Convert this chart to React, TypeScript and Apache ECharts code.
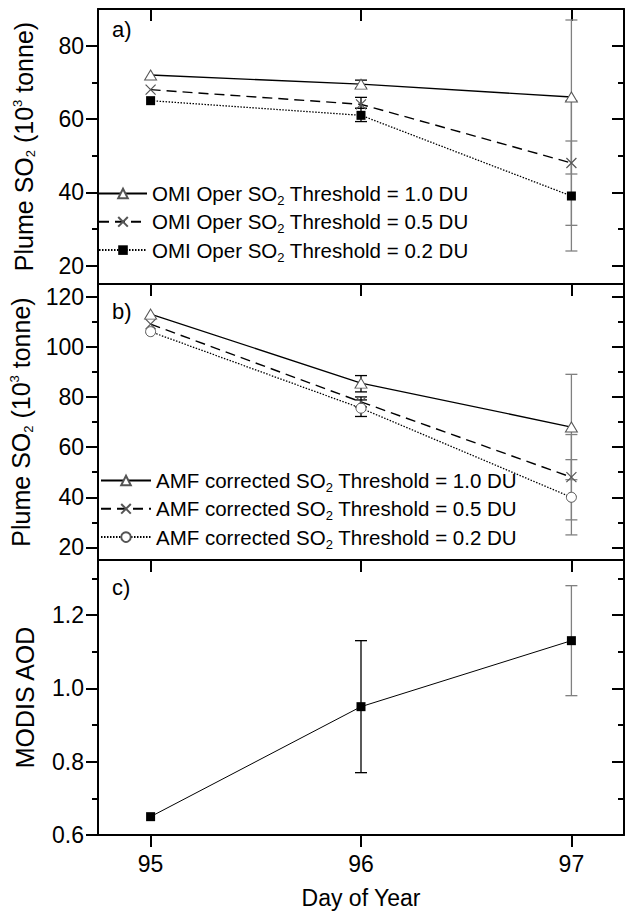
import React, { useEffect, useRef } from 'react';
import * as echarts from 'echarts';

const FONT = '"Liberation Sans", Arial, sans-serif';

// ---- data ----
const days = [95, 96, 97];
const xTicks = [95, 96, 97];
const xRange = [94.75, 97.25];

const omiNames = [
  'OMI Oper SO2 Threshold = 1.0 DU',
  'OMI Oper SO2 Threshold = 0.5 DU',
  'OMI Oper SO2 Threshold = 0.2 DU',
];
const omi10 = [72, 69.5, 66];
const omi05 = [68, 64, 48];
const omi02 = [65, 61, 39];
const omi10Err = [[96, 68.4, 70.6], [97, 45, 87]];
const omi05Err = [[96, 62.9, 65.9], [97, 31, 65]];
const omi02Err = [[96, 59.3, 62.9], [97, 24, 54]];

const amfNames = [
  'AMF corrected SO2 Threshold = 1.0 DU',
  'AMF corrected SO2 Threshold = 0.5 DU',
  'AMF corrected SO2 Threshold = 0.2 DU',
];
const amf10 = [113, 85.5, 68];
const amf05 = [109, 78, 48];
const amf02 = [106, 75.5, 40];
const amf10Err = [[96, 82, 88.5], [97, 47, 89]];
const amf05Err = [[96, 76, 80], [97, 31, 65]];
const amf02Err = [[96, 72.2, 78.8], [97, 25, 55]];

const aodName = 'MODIS AOD';
const aod = [0.65, 0.95, 1.13];
const aodErr = [[96, 0.77, 1.13], [97, 0.98, 1.28]];

const yRangeA = [15, 90];
const yTicksA = [20, 40, 60, 80];
const yMinorA = [30, 50, 70];
const yRangeB = [15, 125];
const yTicksB = [20, 40, 60, 80, 100, 120];
const yMinorB = [30, 50, 70, 90, 110];
const yRangeC = [0.6, 1.35];
const yTicksC = [0.6, 0.8, 1.0, 1.2];
const yMinorC = [0.7, 0.9, 1.1, 1.3];

const so2Title = 'Plume SO{sub|2} (10{sup|3} tonne)';
const panelLabels = ['a)', 'b)', 'c)'];

// ---- styling helpers ----
const richText = {
  sub: { fontSize: 13, fontFamily: FONT, color: '#000', padding: [14, 0, 0, 0] },
  sup: { fontSize: 13, fontFamily: FONT, color: '#000', padding: [0, 0, 13, 0] },
};
const axisLine = { show: true, onZero: false, lineStyle: { color: '#000', width: 2 } };
const tickStyle = { color: '#000', width: 2 };

function xAxesFor(g: number) {
  const last = g === 2;
  return [
    {
      type: 'value', gridIndex: g, position: 'bottom', min: xRange[0], max: xRange[1],
      axisLine,
      axisTick: last
        ? { show: true, inside: false, length: 12, customValues: xTicks, lineStyle: tickStyle }
        : { show: false },
      axisLabel: last
        ? { show: true, customValues: xTicks, margin: 17, fontSize: 23, fontFamily: FONT, color: '#000' }
        : { show: false },
      splitLine: { show: false },
      name: last ? 'Day of Year' : '',
      nameLocation: 'middle', nameGap: 51,
      nameTextStyle: { fontSize: 23, fontFamily: FONT, color: '#000' },
    },
    {
      type: 'value', gridIndex: g, position: 'top', min: xRange[0], max: xRange[1],
      axisLine,
      axisTick: { show: true, inside: true, length: 12, customValues: xTicks, lineStyle: tickStyle },
      axisLabel: { show: false },
      splitLine: { show: false },
    },
  ];
}

function yAxesFor(g: number, range: number[], ticks: number[], minors: number[], name: string, fmt: (v: number) => string) {
  const base = { type: 'value', gridIndex: g, min: range[0], max: range[1], splitLine: { show: false } };
  return [
    {
      ...base, position: 'left', axisLine,
      axisTick: { show: true, inside: false, length: 12, customValues: ticks, lineStyle: tickStyle },
      axisLabel: { show: true, customValues: ticks, margin: 14, fontSize: 23, fontFamily: FONT, color: '#000', formatter: fmt },
      name, nameLocation: 'middle', nameGap: 61, nameRotate: 90,
      nameTextStyle: { fontSize: 25, fontFamily: FONT, color: '#000', rich: richText },
    },
    {
      ...base, position: 'left', axisLine: { show: false },
      axisTick: { show: true, inside: false, length: 6, customValues: minors, lineStyle: tickStyle },
      axisLabel: { show: false },
    },
    {
      ...base, position: 'right', axisLine,
      axisTick: { show: true, inside: true, length: 12, customValues: ticks, lineStyle: tickStyle },
      axisLabel: { show: false },
    },
    {
      ...base, position: 'right', axisLine: { show: false },
      axisTick: { show: true, inside: true, length: 6, customValues: minors, lineStyle: tickStyle },
      axisLabel: { show: false },
    },
  ];
}

function errorSeries(g: number, data: number[][]) {
  return {
    type: 'custom', xAxisIndex: 2 * g, yAxisIndex: 4 * g, z: 2, silent: true,
    encode: { x: 0, y: [1, 2] },
    data,
    renderItem: (_params: any, api: any) => {
      const x = api.value(0);
      const top = api.coord([x, api.value(2)]);
      const bot = api.coord([x, api.value(1)]);
      const hw = 6;
      const style = { stroke: x >= 97 ? '#808080' : '#000', lineWidth: 1.3 };
      return {
        type: 'group',
        children: [
          { type: 'line', shape: { x1: top[0], y1: top[1], x2: bot[0], y2: bot[1] }, style },
          { type: 'line', shape: { x1: top[0] - hw, y1: top[1], x2: top[0] + hw, y2: top[1] }, style },
          { type: 'line', shape: { x1: bot[0] - hw, y1: bot[1], x2: bot[0] + hw, y2: bot[1] }, style },
        ],
      };
    },
  };
}

const X_SYMBOL = 'path://M0,0L10,10M10,0L0,10';

const markerStyles: Record<string, any> = {
  triangle: { symbol: 'triangle', symbolSize: [12, 10], itemStyle: { color: '#fff', borderColor: '#555', borderWidth: 1 } },
  cross: { symbol: X_SYMBOL, symbolSize: 10, itemStyle: { color: 'transparent', borderColor: '#555', borderWidth: 1.2 } },
  square: { symbol: 'rect', symbolSize: 9, itemStyle: { color: '#000', borderColor: '#000', borderWidth: 0 } },
  circle: { symbol: 'circle', symbolSize: 10, itemStyle: { color: '#fff', borderColor: '#555', borderWidth: 1 } },
};
const lineStyles: Record<string, any> = {
  solid: { color: '#000', width: 1.3, type: 'solid' },
  dashed: { color: '#000', width: 1.4, type: [10, 6] },
  dotted: { color: '#000', width: 1.3, type: [1.5, 1.5] },
};

function lineSeries(g: number, name: string, values: number[], marker: string, line: string) {
  return {
    type: 'line', name, xAxisIndex: 2 * g, yAxisIndex: 4 * g, z: 3,
    data: days.map((d, i) => [d, values[i]]),
    ...markerStyles[marker],
    lineStyle: lineStyles[line],
    emphasis: { disabled: true },
    silent: true,
  };
}

function legendFor(names: string[], left: number, top: number, width: number) {
  return {
    data: names, left, top, orient: 'vertical', padding: 0,
    itemWidth: width, itemHeight: 12, itemGap: 4.3, selectedMode: false,
    formatter: (n: string) => n.replace('SO2', 'SO{sub|2}'),
    textStyle: { fontSize: 20.5, fontFamily: FONT, color: '#000', rich: richText },
  };
}

function buildOption() {
  const fmtInt = (v: number) => String(Math.round(v));
  const fmt1 = (v: number) => v.toFixed(1);
  return {
    animation: false,
    backgroundColor: '#fff',
    grid: [
      { left: 98, right: 2, top: 9, height: 275 },
      { left: 98, right: 2, top: 284, height: 276 },
      { left: 98, right: 2, top: 560, height: 275 },
    ],
    xAxis: [...xAxesFor(0), ...xAxesFor(1), ...xAxesFor(2)],
    yAxis: [
      ...yAxesFor(0, yRangeA, yTicksA, yMinorA, so2Title, fmtInt),
      ...yAxesFor(1, yRangeB, yTicksB, yMinorB, so2Title, fmtInt),
      ...yAxesFor(2, yRangeC, yTicksC, yMinorC, aodName, fmt1),
    ],
    legend: [legendFor(omiNames, 98, 183, 48), legendFor(amfNames, 100, 470, 50)],
    graphic: panelLabels.map((t, i) => ({
      type: 'text', left: 112, top: [18, 300, 576][i],
      style: { text: t, fontSize: 22, fontFamily: FONT, fill: '#000' },
    })),
    series: [
      errorSeries(0, omi10Err), errorSeries(0, omi05Err), errorSeries(0, omi02Err),
      lineSeries(0, omiNames[0], omi10, 'triangle', 'solid'),
      lineSeries(0, omiNames[1], omi05, 'cross', 'dashed'),
      lineSeries(0, omiNames[2], omi02, 'square', 'dotted'),
      errorSeries(1, amf10Err), errorSeries(1, amf05Err), errorSeries(1, amf02Err),
      lineSeries(1, amfNames[0], amf10, 'triangle', 'solid'),
      lineSeries(1, amfNames[1], amf05, 'cross', 'dashed'),
      lineSeries(1, amfNames[2], amf02, 'circle', 'dotted'),
      errorSeries(2, aodErr),
      { ...lineSeries(2, aodName, aod, 'square', 'solid'), lineStyle: { color: '#000', width: 1 } },
    ],
  };
}

export default function App() {
  const ref = useRef<HTMLDivElement>(null);
  useEffect(() => {
    const chart = echarts.init(ref.current!, null, { renderer: 'svg' });
    chart.setOption(buildOption() as any);
    return () => chart.dispose();
  }, []);
  return (
    <div
      ref={ref}
      style={{ position: 'fixed', left: 0, top: 0, width: 626, height: 914, background: '#fff' }}
    />
  );
}
